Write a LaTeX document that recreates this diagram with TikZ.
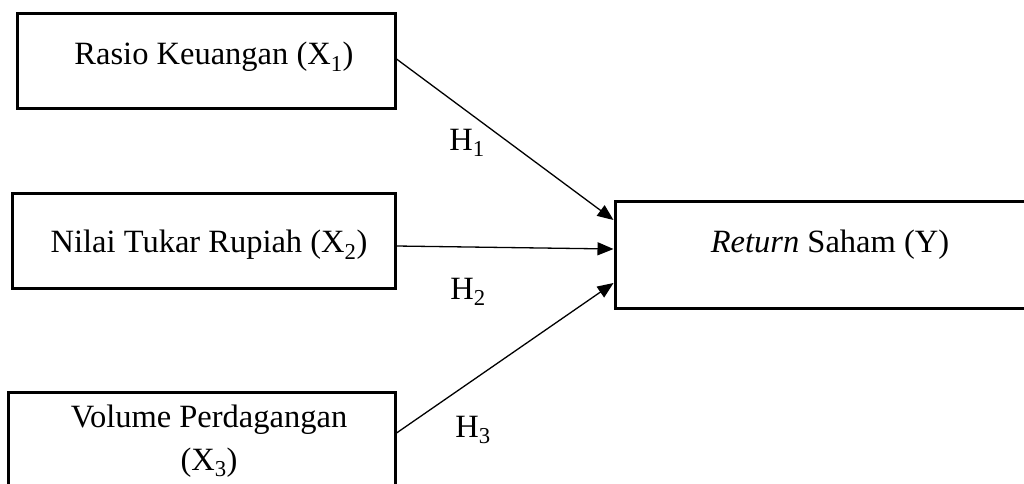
\documentclass[tikz,border=0pt]{standalone}
\usepackage{fontspec}
\setmainfont{Liberation Serif}
\usetikzlibrary{arrows.meta}
\begin{document}
\begin{tikzpicture}[x=1pt,y=-1pt,
  box/.style={draw=black,line width=3pt,rectangle,inner sep=0pt},
  txt/.style={font=\fontsize{32.5}{43}\selectfont,inner sep=0pt,align=center},
  conn/.style={draw=black,line width=1.3pt,-{Triangle[length=16pt,width=13pt]}}]
\useasboundingbox (0,0) rectangle (1024,483);
\fill[white] (0,0) rectangle (1024,483);
% boxes
\node[box,minimum width=378pt,minimum height=95pt] (b1) at (206,60.5) {};
\node[box,minimum width=383pt,minimum height=95pt] (b2) at (203.5,240.5) {};
\node[box,minimum width=387pt,minimum height=130pt] (b3) at (201.5,457) {};
\node[box,minimum width=430pt,minimum height=107pt] (y) at (830,254.5) {};
% texts
\node[txt] (t1) at (214,57) {Rasio Keuangan (X\textsubscript{1})};
\node[txt] (t2) at (209,245) {Nilai Tukar Rupiah (X\textsubscript{2})};
\node[txt] (t3) at (209,441) {Volume Perdagangan\\(X\textsubscript{3})};
\node[txt] (ty) at (830,245) {\textit{Return} Saham (Y)};
% connectors
\draw[conn] ([yshift=1.5pt]b1.east) -- ([yshift=34.5pt]y.west);
\draw[conn] ([yshift=-5.5pt]b2.east) -- ([yshift=5.5pt]y.west);
\draw[conn] ([yshift=24pt]b3.east) -- ([yshift=-28.5pt]y.west);
% labels
\node[txt] (h1) at (467,143) {H\textsubscript{1}};
\node[txt] (h2) at (468,292) {H\textsubscript{2}};
\node[txt] (h3) at (473,430) {H\textsubscript{3}};
\end{tikzpicture}
\end{document}
